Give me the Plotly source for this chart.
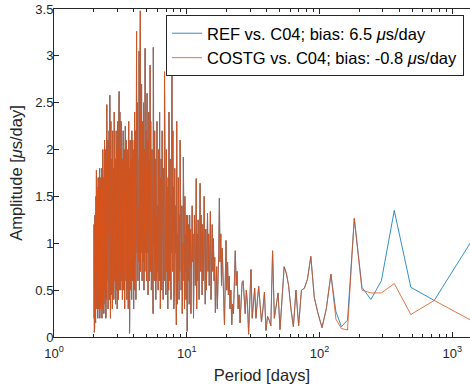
import plotly.graph_objects as go

# Record length (days) -> periods of the spectral lines: P_k = RECORD_DAYS / k
RECORD_DAYS = 1461
N_LINES = 730

# Amplitudes [us/day], k = 1..12 (lowest frequencies, series differ)
ref_low = [1.07, 0.39, 0.53, 1.35, 0.60, 0.40, 0.53, 1.26, 0.18, 0.11, 0.27, 0.67]
costg_low = [0.16, 0.39, 0.24, 0.57, 0.47, 0.47, 0.50, 1.27, 0.075, 0.09, 0.19, 0.67]

# k = 13..145 (both series nearly identical)
shared_mid = [
    0.30, 0.10, 0.25, 0.42, 0.86, 0.62, 0.52, 0.50, 0.12, 0.50, 0.11, 0.30, 0.55, 0.68, 0.75,
    0.45, 0.08, 0.47, 0.35, 0.20, 0.92, 0.12, 0.18, 0.22, 0.07, 0.48, 0.30, 0.16, 0.35, 0.54,
    0.38, 0.20, 0.52, 0.30, 0.20, 0.72, 0.40, 0.03, 0.35, 0.50, 0.25, 0.40, 0.60, 0.58, 0.30,
    0.15, 0.45, 0.30, 0.70, 0.55, 0.92, 0.40, 0.25, 0.35, 0.13, 0.50, 0.30, 0.65, 0.45, 0.80,
    0.50, 1.03, 0.60, 0.13, 0.40, 0.70, 0.95, 0.55, 1.10, 0.80, 1.48, 0.90, 0.60, 0.30, 0.75,
    0.45, 0.26, 0.85, 0.60, 1.05, 0.70, 1.20, 0.80, 0.40, 1.34, 0.90, 0.55, 1.10, 0.70, 1.32,
    0.95, 0.50, 1.15, 0.35, 0.80, 1.50, 1.00, 0.60, 1.20, 0.45, 0.90, 1.30, 0.70, 1.64, 1.00,
    0.40, 0.85, 1.25, 0.60, 1.10, 0.30, 1.69, 1.05, 0.55, 0.90, 1.30, 0.70, 0.20, 1.10, 0.80,
    1.40, 0.50, 1.00, 0.25, 1.15, 0.75, 1.30, 0.35, 0.95, 1.20, 0.60, 1.30, 0.06,
]

# k = 146..730 (periods 10 -> 2 days, both series nearly identical)
shared_high = [
    0.9, 1.3, 0.4, 1.1, 0.7, 1.5, 0.3, 1.2, 0.8, 1.92, 0.6, 1.0, 0.25, 1.4, 0.9,
    0.5, 1.2, 1.6, 2.1, 0.7, 1.3, 0.4, 1.0, 1.7, 0.6, 1.1, 0.35, 1.5, 2.3, 0.13,
    1.0, 0.6, 1.4, 0.9, 1.8, 0.5, 1.2, 0.3, 1.6, 1.1, 2.2, 0.7, 1.3, 2.83, 0.9,
    1.5, 0.4, 1.2, 0.8, 1.9, 0.6, 1.4, 1.0, 2.4, 0.5, 1.1, 1.7, 0.3, 1.3, 0.9,
    1.6, 0.7, 2.0, 1.2, 0.45, 1.5, 0.8, 1.1, 2.5, 2.83, 0.6, 1.3, 0.9, 1.8, 0.4,
    1.2, 1.6, 0.7, 2.2, 1.0, 0.5, 1.4, 1.9, 0.8, 1.3, 0.3, 1.7, 1.1, 2.4, 0.6,
    1.5, 0.9, 2.0, 1.2, 0.5, 1.8, 1.0, 1.4, 0.7, 2.3, 1.1, 0.6, 1.6, 1.3, 0.4,
    1.9, 1.0, 1.5, 0.8, 2.2, 1.2, 0.6, 1.7, 1.0, 2.6, 3.09, 0.25, 1.4, 1.1, 0.8,
    1.6, 2.0, 0.9, 1.3, 0.5, 1.8, 1.2, 2.3, 0.7, 1.5, 2.9, 1.0, 1.4, 0.6, 1.9,
    1.1, 2.4, 0.8, 1.6, 1.3, 0.45, 2.1, 1.2, 1.7, 0.9, 2.6, 1.0, 1.5, 0.6, 1.8,
    1.3, 2.2, 0.9, 1.6, 1.1, 3.08, 0.7, 1.4, 2.0, 1.0, 1.7, 0.5, 1.3, 2.5, 1.1,
    1.8, 0.8, 1.5, 2.3, 1.0, 1.4, 0.6, 2.0, 1.2, 2.7, 0.9, 1.6, 1.1, 2.4, 1.3,
    0.7, 3.48, 1.5, 1.0, 2.1, 1.3, 0.5, 1.8, 3.05, 1.2, 0.8, 1.6, 2.2, 1.0, 1.4,
    0.6, 1.9, 1.2, 2.5, 0.9, 1.5, 1.1, 2.0, 3.26, 0.7, 1.3, 1.7, 0.4, 1.6, 1.0,
    2.2, 1.3, 0.8, 1.8, 1.1, 2.4, 0.5, 1.4, 1.0, 2.0, 1.6, 0.3, 1.2, 1.9, 0.9,
    1.5, 1.1, 2.1, 0.6, 1.3, 1.8, 0.9, 1.2, 2.2, 0.4, 1.6, 1.0, 1.4, 0.7, 1.9,
    1.2, 0.5, 1.7, 1.0, 2.1, 0.8, 1.3, 0.25, 0.04, 1.5, 1.1, 1.8, 0.6, 1.2, 2.3,
    0.9, 1.4, 0.3, 1.7, 1.1, 2.0, 0.7, 1.3, 0.5, 1.6, 1.0, 1.9, 0.4, 1.2, 1.5,
    0.8, 2.1, 1.1, 0.6, 1.4, 1.8, 0.9, 1.2, 2.25, 0.5, 1.3, 1.0, 1.7, 0.3, 1.5,
    1.1, 2.0, 0.7, 1.4, 1.0, 1.8, 0.5, 1.3, 0.9, 2.2, 1.2, 0.6, 1.6, 1.0, 1.4,
    0.4, 1.9, 1.1, 1.5, 0.8, 2.1, 1.2, 0.6, 1.7, 1.0, 2.3, 0.9, 1.4, 0.5, 1.6,
    1.1, 2.0, 0.7, 1.5, 1.2, 2.4, 0.6, 1.3, 1.0, 1.8, 0.5, 2.62, 1.2, 0.9, 1.6,
    1.0, 2.1, 0.4, 1.4, 1.1, 1.9, 0.7, 1.3, 2.3, 0.8, 1.5, 1.0, 0.3, 1.7, 1.2,
    2.0, 0.6, 1.4, 0.9, 1.8, 1.1, 2.2, 0.5, 1.3, 1.0, 1.6, 0.35, 1.2, 1.9, 0.8,
    1.4, 1.1, 2.1, 0.6, 1.3, 0.9, 1.7, 1.2, 2.4, 0.7, 1.0, 1.5, 0.4, 1.8, 1.1,
    1.3, 0.8, 2.0, 1.0, 1.6, 0.5, 1.2, 2.2, 0.9, 1.4, 0.3, 1.7, 1.1, 1.9, 0.6,
    1.2, 1.5, 0.8, 2.1, 1.0, 1.3, 0.45, 1.8, 1.1, 2.3, 0.7, 1.4, 1.0, 0.2, 1.6,
    1.2, 2.0, 0.9, 1.3, 2.58, 0.6, 1.1, 1.7, 0.4, 1.4, 1.0, 2.2, 0.8, 1.5, 1.1,
    0.5, 1.8, 1.2, 0.9, 2.0, 1.3, 0.3, 1.6, 1.0, 2.1, 0.7, 1.4, 1.1, 1.9, 0.6,
    1.2, 1.5, 0.9, 2.2, 2.48, 1.0, 0.4, 1.6, 1.1, 1.3, 0.7, 1.9, 1.0, 0.2, 1.4,
    1.1, 1.8, 0.6, 1.3, 2.0, 0.9, 1.2, 0.35, 1.6, 1.0, 1.4, 0.8, 2.1, 1.1, 0.5,
    1.5, 1.0, 1.8, 0.7, 1.2, 0.25, 1.4, 1.0, 1.7, 0.6, 1.3, 0.9, 1.6, 0.4, 1.1,
    1.4, 2.0, 0.8, 1.2, 0.3, 1.5, 1.0, 1.7, 0.6, 1.1, 0.2, 1.3, 0.9, 1.6, 0.5,
    1.2, 1.8, 0.7, 1.0, 0.35, 1.4, 0.9, 1.5, 0.5, 1.2, 1.7, 0.8, 1.1, 0.3, 1.3,
    1.0, 1.6, 0.6, 1.2, 0.2, 1.4, 0.9, 1.8, 0.7, 1.1, 0.4, 1.5, 1.0, 1.3, 0.5,
    1.2, 0.8, 1.6, 0.3, 1.1, 1.4, 0.6, 1.0, 1.7, 0.4, 1.2, 0.9, 1.5, 0.2, 1.1,
    0.7, 1.3, 1.0, 0.35, 1.5, 0.8, 1.2, 0.5, 1.1, 1.6, 0.3, 1.0, 1.4, 0.6, 1.78,
    0.9, 0.4, 1.2, 0.7, 1.5, 0.25, 1.0, 0.6, 1.3, 0.15, 0.9, 1.1, 0.5, 1.2, 0.3,
    0.8, 1.0, 0.2, 1.3, 0.6, 0.9, 0.1, 1.1, 0.5, 0.8, 0.05, 1.0, 0.4, 1.2, 0.2,
]

periods = [RECORD_DAYS / k for k in range(1, N_LINES + 1)]
amp_ref = ref_low + shared_mid + shared_high
amp_costg = costg_low + shared_mid + shared_high

labels = ["REF vs. C04; bias: 6.5 <i>μ</i>s/day", "COSTG vs. C04; bias: -0.8 <i>μ</i>s/day"]
colors = ["#0072BD", "#D95319"]

FONT = "Liberation Sans, Arial, Helvetica, sans-serif"
AXC = "#262626"

fig = go.Figure()
fig.add_trace(go.Scatter(x=periods, y=amp_ref, mode="lines", name=labels[0],
                         line=dict(color=colors[0], width=0.8)))
fig.add_trace(go.Scatter(x=periods, y=amp_costg, mode="lines", name=labels[1],
                         line=dict(color=colors[1], width=0.8)))

major = [1, 10, 100, 1000]
minor = [m * d for d in (1, 10, 100, 1000) for m in range(2, 10)]

fig.update_layout(
    width=470, height=389,
    margin=dict(l=54, r=0, t=9, b=52),
    paper_bgcolor="white", plot_bgcolor="white",
    font=dict(family=FONT, color=AXC, size=12.5),
    showlegend=True,
    legend=dict(
        x=(464 - 54) / 416, xanchor="right",
        y=(337 - 15) / 328, yanchor="top",
        bgcolor="white", bordercolor=AXC, borderwidth=1,
        font=dict(family=FONT, size=16.5, color="#000000"),
        tracegroupgap=0,
    ),
    xaxis=dict(
        type="log", range=[0, 3.133],
        tickmode="array", tickvals=major,
        ticktext=["10<sup>0</sup>", "10<sup>1</sup>", "10<sup>2</sup>", "10<sup>3</sup>"],
        ticks="inside", ticklen=5, tickcolor=AXC, tickwidth=1,
        ticklabelstandoff=4,
        minor=dict(tickmode="array", tickvals=minor, ticks="inside", ticklen=3,
                   tickcolor=AXC, tickwidth=1, showgrid=False),
        showline=True, linecolor=AXC, linewidth=1, mirror="ticks",
        showgrid=False, zeroline=False,
        tickfont=dict(size=13),
        title=dict(text="Period [days]", font=dict(size=16.5), standoff=9),
    ),
    yaxis=dict(
        range=[0, 3.5], tickmode="linear", tick0=0, dtick=0.5,
        ticks="inside", ticklen=5, tickcolor=AXC, tickwidth=1,
        ticklabelstandoff=-3,
        showline=True, linecolor=AXC, linewidth=1,
        showgrid=False, zeroline=False,
        tickfont=dict(size=13),
        title=dict(text="Amplitude [<i>μ</i>s/day]", font=dict(size=16.5), standoff=8),
    ),
)

fig.write_html("out.html")
